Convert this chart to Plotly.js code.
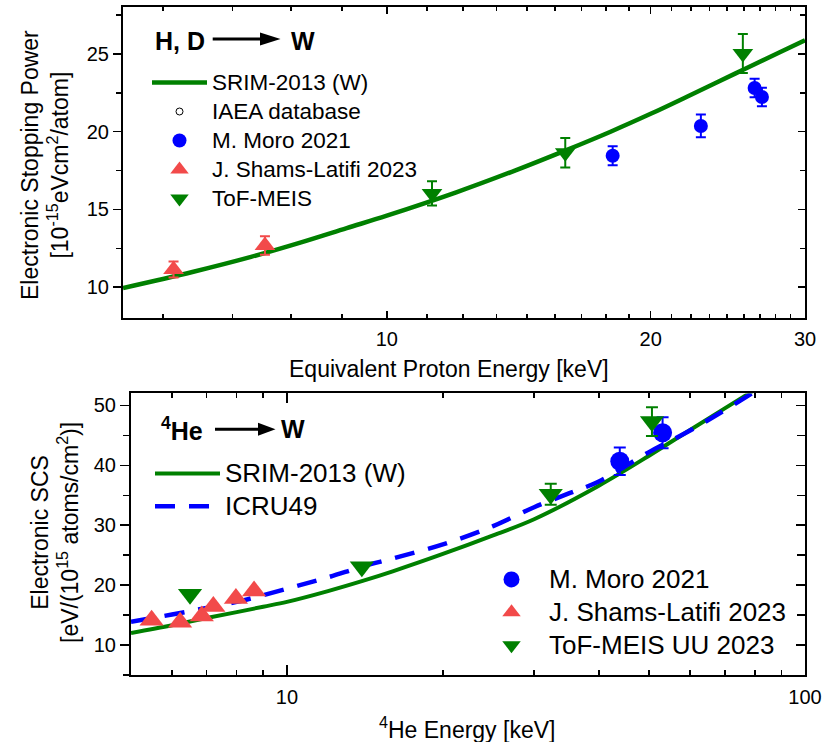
<!DOCTYPE html>
<html>
<head>
<meta charset="utf-8">
<script src="https://cdn.plot.ly/plotly-3.0.1.min.js"></script>
<style>
  html, body { margin: 0; padding: 0; background: #fff; }
  #chart { width: 823px; height: 742px; }
</style>
</head>
<body>
<div id="chart"></div>
<script>
// ---------- H, D -> W : equivalent proton energy [keV] vs stopping power [1e-15 eV cm2/atom]
const srimHE   = [5, 6, 7, 8, 9, 10, 12, 14, 16, 18, 20, 22, 25, 28, 30];
const srimHS   = [9.95, 10.98, 11.95, 12.9, 13.8, 14.6, 16.1, 17.5, 18.8, 20.0, 21.15, 22.25, 23.75, 25.08, 25.88];
const iaeaHE   = [null];   // no IAEA point falls inside this energy window
const iaeaHS   = [null];
const moroHE   = [18.1, 22.82, 26.28, 26.79];
const moroHS   = [18.45, 20.37, 22.81, 22.23];
const moroHErr = [0.61, 0.73, 0.6, 0.6];
const shamsHE   = [5.71, 7.26];
const shamsHS   = [11.14, 12.68];
const shamsHErr = [0.52, 0.59];
const tofHE   = [11.26, 15.98, 25.48];
const tofHS   = [16.03, 18.65, 25.03];
const tofHErr = [0.78, 0.95, 1.25];

// ---------- 4He -> W : energy [keV] vs electronic SCS [eV/(1e15 atoms/cm2)]
const srimHeE = [5, 6, 7, 8, 9, 10, 12, 14, 16, 20, 25, 30, 40, 50, 60, 70, 80, 90];
const srimHeS = [12.0, 13.3, 14.5, 15.5, 16.4, 17.2, 19.0, 20.7, 22.3, 25.2, 28.3, 31.0, 36.6, 41.6, 45.9, 49.5, 52.6, 55.4];
const icruE   = [5, 6, 7, 8, 10, 12, 14, 16, 20, 25, 30, 35, 40, 50, 60, 70, 80, 90];
const icruS   = [13.9, 15.1, 16.2, 17.2, 19.4, 21.3, 23.1, 24.45, 26.8, 29.85, 33.0, 35.3, 37.3, 42.2, 45.8, 49.2, 52.3, 55.0];
const moroHeE   = [43.9, 53.1];
const moroHeS   = [40.66, 45.43];
const moroHeErr = [2.3, 2.6];
const shamsHeE = [5.48, 6.22, 6.85, 7.21, 7.97, 8.64];
const shamsHeS = [14.15, 13.82, 14.85, 16.43, 17.78, 19.02];
const tofHeE   = [6.5, 13.95, 32.3, 50.65];
const tofHeS   = [18.48, 23.05, 35.16, 47.3];
const tofHeErr = [null, null, 1.76, 2.4];

// ---------- tick labels
const topTicksX = [10, 20, 30];
const topTicksY = [10, 15, 20, 25];
const botTicksX = [10, 100];
const botTicksY = [10, 20, 30, 40, 50];

// minor ticks: eight linear subdivisions between labelled values
const topMinorX = [];
for (let k = 1; k <= 8; k++) {
  topMinorX.push(10 - 10 * k / 9, 10 + 10 * k / 9, 20 + 10 * k / 9);
}
const botMinorX = [];
for (let k = 6; k <= 9; k++) botMinorX.push(k, 10 * k);
for (let k = 2; k <= 5; k++) botMinorX.push(10 * k);

// ---------- page geometry helpers (figure uses zero margins)
const W = 823, H = 742;
const px = v => v / W;
const py = v => 1 - v / H;

const FONT = 'Arial, "Liberation Sans", sans-serif';
const GREEN = '#008000', BLUE = '#0000ff', RED = '#f24a4a';

// legend labels are set a little larger than the row pitch font
const big = (txt, size) => `<span style="font-size:${size}px">${txt}</span>`;

const axisBase = {
  showline: true, linewidth: 2, linecolor: '#000',
  showgrid: false, zeroline: false,
  tickcolor: '#000', tickwidth: 1.5,
  tickfont: { size: 20, family: FONT, color: '#000' }
};

const traces = [
  // ---- upper panel
  { x: srimHE, y: srimHS, xaxis: 'x', yaxis: 'y', mode: 'lines', name: big('SRIM-2013 (W)', 22.5),
    line: { color: GREEN, width: 4.5, shape: 'spline' }, legend: 'legend' },
  { x: iaeaHE, y: iaeaHS, xaxis: 'x', yaxis: 'y', mode: 'markers', name: big('IAEA database', 22.5),
    marker: { symbol: 'circle-open', size: 7, color: '#000', line: { width: 1, color: '#000' } }, legend: 'legend' },
  { x: moroHE, y: moroHS, xaxis: 'x', yaxis: 'y', mode: 'markers', name: big('M. Moro 2021', 22.5),
    marker: { symbol: 'circle', size: 14, color: BLUE },
    error_y: { type: 'data', array: moroHErr, color: BLUE, thickness: 2, width: 5 }, legend: 'legend' },
  { x: shamsHE, y: shamsHS, xaxis: 'x', yaxis: 'y', mode: 'markers', name: big('J. Shams-Latifi 2023', 22.5),
    marker: { symbol: 'triangle-up', size: 18, color: RED },
    error_y: { type: 'data', array: shamsHErr, color: RED, thickness: 2, width: 5 }, legend: 'legend' },
  { x: tofHE, y: tofHS, xaxis: 'x', yaxis: 'y3', mode: 'markers', name: big('ToF-MEIS', 22.5),
    marker: { symbol: 'triangle-down', size: 18, color: GREEN },
    error_y: { type: 'data', array: tofHErr, color: GREEN, thickness: 2, width: 5 }, legend: 'legend' },

  // ---- lower panel
  { x: srimHeE, y: srimHeS, xaxis: 'x2', yaxis: 'y2', mode: 'lines', name: big('SRIM-2013 (W)', 26),
    line: { color: GREEN, width: 4, shape: 'spline' }, legend: 'legend2' },
  { x: icruE, y: icruS, xaxis: 'x2', yaxis: 'y2', mode: 'lines', name: big('ICRU49', 26),
    line: { color: BLUE, width: 4.5, dash: '20px,14px', shape: 'spline' }, legend: 'legend2' },
  { x: moroHeE, y: moroHeS, xaxis: 'x2', yaxis: 'y2', mode: 'markers', name: big('M. Moro 2021', 26),
    marker: { symbol: 'circle', size: 19, color: BLUE },
    error_y: { type: 'data', array: moroHeErr, color: BLUE, thickness: 2, width: 6 }, legend: 'legend3' },
  { x: shamsHeE, y: shamsHeS, xaxis: 'x2', yaxis: 'y2', mode: 'markers', name: big('J. Shams-Latifi 2023', 26),
    marker: { symbol: 'triangle-up', size: 21, color: RED }, legend: 'legend3' },
  { x: tofHeE, y: tofHeS, xaxis: 'x2', yaxis: 'y4', mode: 'markers', name: big('ToF-MEIS UU 2023', 26),
    marker: { symbol: 'triangle-down', size: 21, color: GREEN },
    error_y: { type: 'data', array: tofHeErr, color: GREEN, thickness: 2, width: 6 }, legend: 'legend3' }
];

const legendBase = {
  xanchor: 'left', yanchor: 'top', bgcolor: 'rgba(0,0,0,0)', borderwidth: 0,
  tracegroupgap: 0, traceorder: 'normal'
};

const layout = {
  width: W, height: H,
  margin: { l: 0, r: 0, t: 0, b: 0 },
  paper_bgcolor: '#fff', plot_bgcolor: 'rgba(0,0,0,0)',
  font: { family: FONT, color: '#000' },
  showlegend: true,

  xaxis: Object.assign({}, axisBase, {
    domain: [px(123), px(805)], anchor: 'y', type: 'log',
    range: [Math.log10(5), Math.log10(30)],
    tickmode: 'array', tickvals: topTicksX, ticktext: topTicksX.map(String),
    ticks: 'inside', ticklen: 7, mirror: 'ticks', ticklabelstandoff: 2,
    minor: { tickmode: 'array', tickvals: topMinorX, ticks: 'inside', ticklen: 4,
             tickwidth: 1.5, tickcolor: '#000', showgrid: false }
  }),
  yaxis: Object.assign({}, axisBase, {
    domain: [py(318.3), py(7.3)], anchor: 'x', range: [8, 28],
    tickmode: 'array', tickvals: topTicksY, ticks: 'outside', ticklen: 8,
    minor: { dtick: 2.5, tick0: 0, ticks: 'outside', ticklen: 5, tickwidth: 1.5, tickcolor: '#000', showgrid: false }
  }),
  yaxis3: Object.assign({}, axisBase, {
    overlaying: 'y', side: 'right', anchor: 'x', range: [8, 28],
    tickmode: 'array', tickvals: topTicksY, ticks: 'inside', ticklen: 7, showticklabels: false,
    minor: { dtick: 2.5, tick0: 0, ticks: 'inside', ticklen: 5, tickwidth: 1.5, tickcolor: '#000', showgrid: false }
  }),

  xaxis2: Object.assign({}, axisBase, {
    domain: [px(131), px(805)], anchor: 'y2', type: 'log',
    range: [Math.log10(5), 2],
    tickmode: 'array', tickvals: botTicksX, ticktext: botTicksX.map(String),
    ticks: 'inside', ticklen: 10, mirror: 'ticks', ticklabelstandoff: 3,
    minor: { tickmode: 'array', tickvals: botMinorX, ticks: 'inside', ticklen: 5,
             tickwidth: 1.5, tickcolor: '#000', showgrid: false }
  }),
  yaxis2: Object.assign({}, axisBase, {
    domain: [py(675), py(393.4)], anchor: 'x2', range: [5, 52],
    tickmode: 'array', tickvals: botTicksY, ticks: 'outside', ticklen: 9,
    minor: { dtick: 5, tick0: 0, ticks: 'outside', ticklen: 6, tickwidth: 1.5, tickcolor: '#000', showgrid: false }
  }),
  yaxis4: Object.assign({}, axisBase, {
    overlaying: 'y2', side: 'right', anchor: 'x2', range: [5, 52],
    tickmode: 'array', tickvals: botTicksY, ticks: 'inside', ticklen: 9, showticklabels: false,
    minor: { dtick: 5, tick0: 0, ticks: 'inside', ticklen: 8, tickwidth: 1.5, tickcolor: '#000', showgrid: false }
  }),

  legend: Object.assign({}, legendBase, {
    x: px(147), y: py(63), itemwidth: 55,
    font: { size: 20, family: FONT, color: '#000' }
  }),
  legend2: Object.assign({}, legendBase, {
    x: px(150), y: py(452), itemwidth: 65,
    font: { size: 23, family: FONT, color: '#000' }
  }),
  legend3: Object.assign({}, legendBase, {
    x: px(474), y: py(558), itemwidth: 65,
    font: { size: 23, family: FONT, color: '#000' }
  }),

  annotations: [
    // projectile -> target headings
    { xref: 'paper', yref: 'paper', x: px(153), y: py(41), xanchor: 'left', yanchor: 'middle',
      text: '<b>H, D</b>', showarrow: false, font: { size: 25, family: FONT } },
    { xref: 'paper', yref: 'paper', x: px(289), y: py(41), xanchor: 'left', yanchor: 'middle',
      text: '<b>W</b>', showarrow: false, font: { size: 25, family: FONT } },
    { xref: 'paper', yref: 'paper', x: px(159), y: py(429), xanchor: 'left', yanchor: 'middle',
      text: '<b><sup>4</sup>He</b>', showarrow: false, font: { size: 25, family: FONT } },
    { xref: 'paper', yref: 'paper', x: px(279), y: py(429), xanchor: 'left', yanchor: 'middle',
      text: '<b>W</b>', showarrow: false, font: { size: 25, family: FONT } },

    // axis titles
    { xref: 'paper', yref: 'paper', x: px(449), y: py(369), xanchor: 'center', yanchor: 'middle',
      text: 'Equivalent Proton Energy [keV]', showarrow: false, font: { size: 23, family: FONT } },
    { xref: 'paper', yref: 'paper', x: px(45), y: py(165), xanchor: 'center', yanchor: 'middle',
      textangle: -90, showarrow: false, font: { size: 23, family: FONT },
      text: 'Electronic Stopping Power<br>[10<sup>-15</sup>eVcm<sup>2</sup>/atom]' },
    { xref: 'paper', yref: 'paper', x: px(467), y: py(728), xanchor: 'center', yanchor: 'middle',
      text: '<sup>4</sup>He Energy [keV]', showarrow: false, font: { size: 23, family: FONT } },
    { xref: 'paper', yref: 'paper', x: px(55), y: py(533), xanchor: 'center', yanchor: 'middle',
      textangle: -90, showarrow: false, font: { size: 23, family: FONT },
      text: 'Electronic SCS<br>[eV/(10<sup>15</sup> atoms/cm<sup>2</sup>)]' }
  ],

  // arrows inside the headings
  shapes: [
    { type: 'line', xref: 'paper', yref: 'paper', x0: px(212.7), x1: px(262), y0: py(39), y1: py(39),
      line: { color: '#000', width: 3 } },
    { type: 'path', xref: 'paper', yref: 'paper', fillcolor: '#000', line: { width: 0 },
      path: `M ${px(260)},${py(32.5)} L ${px(280.5)},${py(39)} L ${px(260)},${py(45.5)} Z` },
    { type: 'line', xref: 'paper', yref: 'paper', x0: px(215), x1: px(260), y0: py(429.3), y1: py(429.3),
      line: { color: '#000', width: 3 } },
    { type: 'path', xref: 'paper', yref: 'paper', fillcolor: '#000', line: { width: 0 },
      path: `M ${px(258)},${py(422.8)} L ${px(275.5)},${py(429.3)} L ${px(258)},${py(435.8)} Z` }
  ]
};

Plotly.newPlot('chart', traces, layout, { displayModeBar: false, staticPlot: true });
</script>
</body>
</html>
